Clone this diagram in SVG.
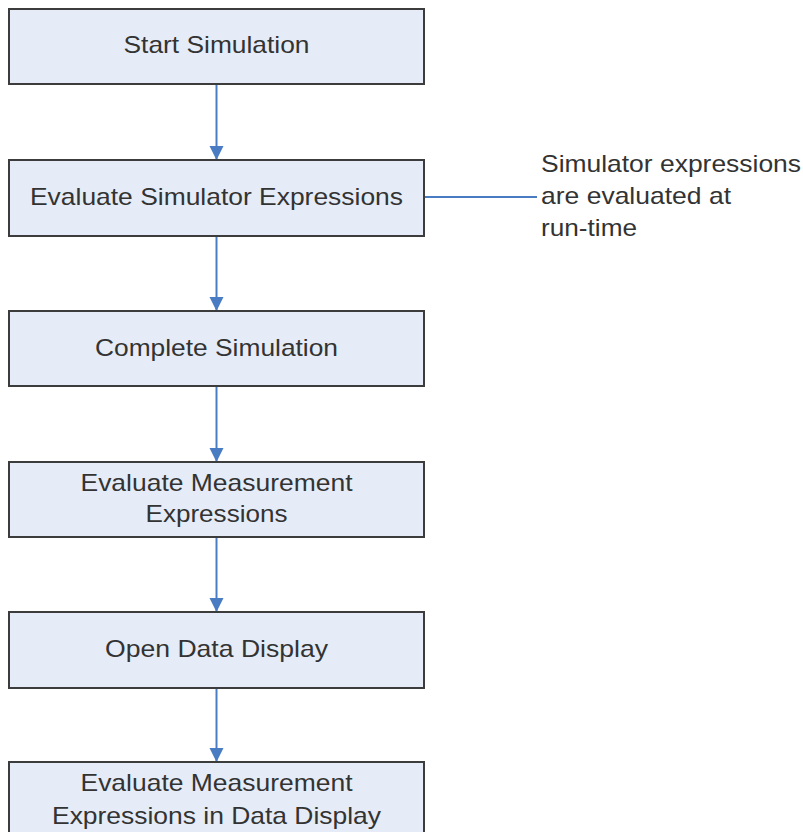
<svg xmlns="http://www.w3.org/2000/svg" width="803" height="832" viewBox="0 0 803 832">
<defs>
<style>
.box{fill:#E6ECF7;stroke:#3c3c3c;stroke-width:2}
.t{font-family:"Liberation Sans",Arial,sans-serif;font-size:24px;fill:#333333;text-anchor:middle}
.a{font-family:"Liberation Sans",Arial,sans-serif;font-size:24px;fill:#333333}
.c{stroke:#4A7CC4;stroke-width:2;fill:none}
</style>
<marker id="ah" markerUnits="userSpaceOnUse" markerWidth="14" markerHeight="16" refX="14" refY="7" orient="auto">
<path d="M0,0 L14,7 L0,14 Z" fill="#4A7CC4"/>
</marker>
</defs>
<rect width="803" height="832" fill="#ffffff"/>
<g id="connectors">
<line class="c" x1="216.5" y1="85" x2="216.5" y2="160" marker-end="url(#ah)"/>
<line class="c" x1="216.5" y1="237" x2="216.5" y2="311" marker-end="url(#ah)"/>
<line class="c" x1="216.5" y1="387" x2="216.5" y2="462" marker-end="url(#ah)"/>
<line class="c" x1="216.5" y1="538" x2="216.5" y2="612" marker-end="url(#ah)"/>
<line class="c" x1="216.5" y1="689" x2="216.5" y2="762" marker-end="url(#ah)"/>
<line class="c" x1="425" y1="197" x2="537" y2="197"/>
</g>
<g id="n1">
<rect class="box" x="9" y="9" width="415" height="75"/>
<text class="t" x="216.5" y="53" textLength="186" lengthAdjust="spacingAndGlyphs">Start Simulation</text>
</g>
<g id="n2">
<rect class="box" x="9" y="160" width="415" height="76"/>
<text class="t" x="216.5" y="205" textLength="373" lengthAdjust="spacingAndGlyphs">Evaluate Simulator Expressions</text>
</g>
<g id="n3">
<rect class="box" x="9" y="311" width="415" height="75"/>
<text class="t" x="216.5" y="356" textLength="243" lengthAdjust="spacingAndGlyphs">Complete Simulation</text>
</g>
<g id="n4">
<rect class="box" x="9" y="462" width="415" height="75"/>
<text class="t" x="216.5" y="491" textLength="272" lengthAdjust="spacingAndGlyphs">Evaluate Measurement</text>
<text class="t" x="216.5" y="522" textLength="142" lengthAdjust="spacingAndGlyphs">Expressions</text>
</g>
<g id="n5">
<rect class="box" x="9" y="612" width="415" height="76"/>
<text class="t" x="216.5" y="657" textLength="223" lengthAdjust="spacingAndGlyphs">Open Data Display</text>
</g>
<g id="n6">
<rect class="box" x="9" y="762" width="415" height="90"/>
<text class="t" x="216.5" y="791" textLength="272" lengthAdjust="spacingAndGlyphs">Evaluate Measurement</text>
<text class="t" x="216.5" y="824" textLength="329" lengthAdjust="spacingAndGlyphs">Expressions in Data Display</text>
</g>
<g id="note">
<text class="a" x="541" y="172" textLength="260" lengthAdjust="spacingAndGlyphs">Simulator expressions</text>
<text class="a" x="541" y="204" textLength="190" lengthAdjust="spacingAndGlyphs">are evaluated at</text>
<text class="a" x="541" y="236" textLength="96" lengthAdjust="spacingAndGlyphs">run-time</text>
</g>
</svg>
